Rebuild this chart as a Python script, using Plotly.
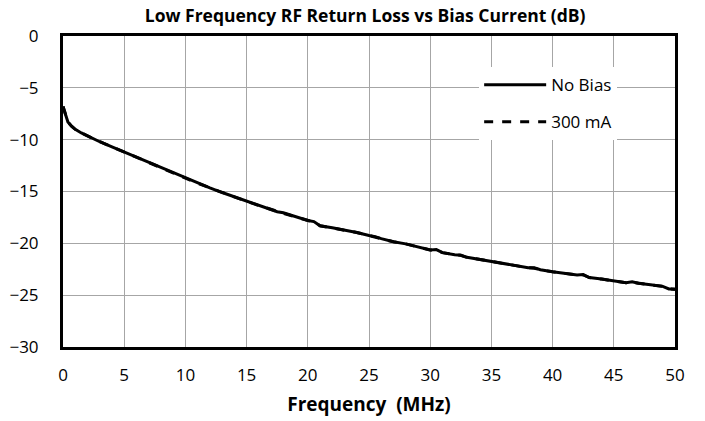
import plotly.graph_objects as go

freq = [0, 0.2, 0.4, 0.7, 1, 1.5, 2, 3, 4, 5, 6, 7, 8, 9, 10, 11, 12, 13, 14, 15,
        16, 17, 17.5, 18, 19, 20, 20.5, 21, 22, 23, 24, 25, 25.5, 26, 27, 28, 29,
        30, 30.5, 31, 32, 32.5, 33, 34, 35, 36, 37, 38, 38.5, 39, 40, 41, 42, 42.5,
        43, 44, 45, 46, 46.5, 47, 48, 49, 49.5, 50]
no_bias = [-6.8, -7.6, -8.3, -8.7, -9.0, -9.35, -9.65, -10.2, -10.7, -11.2, -11.7,
           -12.2, -12.7, -13.2, -13.7, -14.2, -14.65, -15.1, -15.5, -15.95, -16.35,
           -16.75, -16.95, -17.05, -17.45, -17.8, -17.9, -18.3, -18.5, -18.7, -18.95,
           -19.25, -19.35, -19.55, -19.85, -20.05, -20.35, -20.65, -20.6, -20.9,
           -21.1, -21.15, -21.35, -21.55, -21.75, -22.0, -22.15, -22.35, -22.35,
           -22.55, -22.75, -22.9, -23.05, -23.0, -23.3, -23.45, -23.6, -23.8, -23.7,
           -23.85, -24.0, -24.15, -24.4, -24.4]
bias_300 = [-6.8, -7.6, -8.3, -8.7, -9.0, -9.35, -9.65, -10.2, -10.7, -11.2, -11.7,
            -12.2, -12.7, -13.2, -13.75, -14.2, -14.65, -15.1, -15.5, -15.95, -16.35,
            -16.75, -16.95, -17.1, -17.45, -17.8, -17.95, -18.3, -18.5, -18.7, -18.95,
            -19.25, -19.4, -19.55, -19.85, -20.05, -20.35, -20.65, -20.65, -20.9,
            -21.1, -21.15, -21.35, -21.55, -21.75, -22.0, -22.15, -22.35, -22.4,
            -22.55, -22.75, -22.9, -23.05, -23.05, -23.3, -23.45, -23.6, -23.8, -23.75,
            -23.85, -24.0, -24.15, -24.4, -24.45]

x_ticks = list(range(0, 51, 5))
y_ticks = list(range(-30, 1, 5))

font_family = "Open Sans, Liberation Sans, sans-serif"

fig = go.Figure()
fig.add_trace(go.Scatter(x=freq, y=no_bias, mode="lines", name="No Bias",
                         line=dict(color="black", width=3), legendgroup="a"))
fig.add_trace(go.Scatter(x=freq, y=bias_300, mode="lines", name="300 mA",
                         line=dict(color="black", width=3, dash="dash"), legendgroup="b"))

fig.update_layout(
    width=705, height=421,
    margin=dict(l=63, r=30, t=36, b=74, autoexpand=False),
    paper_bgcolor="white", plot_bgcolor="white",
    font=dict(family=font_family, color="black", size=17),
    title=dict(text="<b>Low Frequency RF Return Loss vs Bias Current (dB)</b>",
               x=0.518, xanchor="center", y=0.962, yanchor="middle",
               font=dict(size=17.5, family=font_family)),
    showlegend=True,
    legend=dict(x=0.68, y=0.90, xanchor="left", yanchor="top",
                bgcolor="white", borderwidth=0, tracegroupgap=12,
                font=dict(size=17), itemwidth=62),
    xaxis=dict(range=[0, 50], tickvals=x_ticks, showgrid=True, gridcolor="#a6a6a6",
               gridwidth=1, showline=True, linecolor="black", linewidth=3, mirror=True,
               ticks="", zeroline=False, ticklabelstandoff=11, automargin=False,
               title=dict(text="<b>Frequency  (MHz)</b>", font=dict(size=19), standoff=13)),
    yaxis=dict(range=[-30, 0], tickvals=y_ticks, showgrid=True, gridcolor="#a6a6a6",
               gridwidth=1, showline=True, linecolor="black", linewidth=3, mirror=True,
               ticks="", zeroline=False, ticklabelstandoff=18, automargin=False),
)

fig.write_html("out.html", config={"displayModeBar": False},
               post_script="document.body.style.margin='0px';document.body.style.overflow='hidden';")
